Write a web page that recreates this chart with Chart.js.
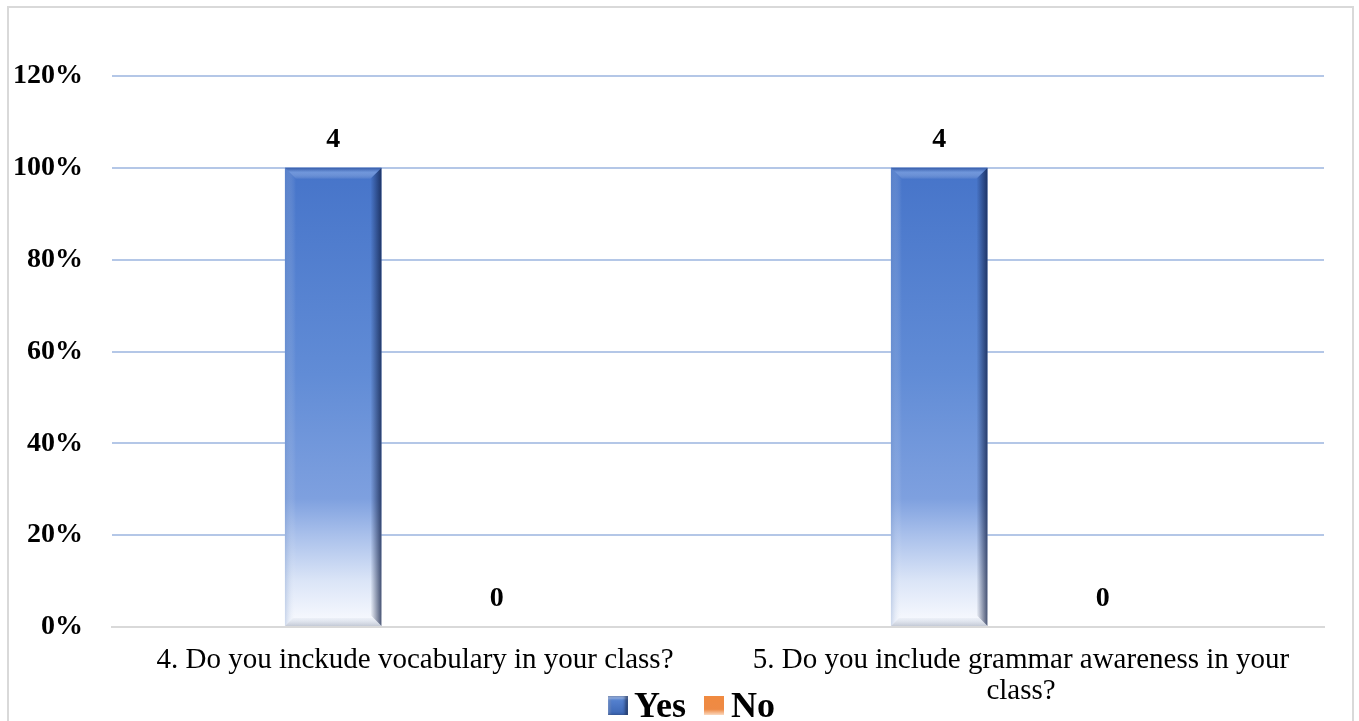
<!DOCTYPE html>
<html><head><meta charset="utf-8">
<script src="https://cdn.jsdelivr.net/npm/chart.js@4"></script>
<style>
html,body{margin:0;padding:0;background:#fff;}
#wrap{position:relative;width:1359px;height:721px;overflow:hidden;}
#frame{position:absolute;left:7px;top:6px;width:1347px;height:730px;border:2px solid #d9d9d9;box-sizing:border-box;pointer-events:none;}
#c{position:absolute;left:0;top:0;}
.lg{position:absolute;font-family:"Liberation Serif",serif;font-weight:bold;font-size:36px;line-height:36px;color:#000;white-space:nowrap;}
.box{position:absolute;width:20px;height:19px;top:696px;}
.yes{left:608px;background:linear-gradient(180deg,#5b88d6,#3c66b3);box-shadow:inset -3px 0 3px rgba(20,35,70,.6),inset 0 3px 2px rgba(255,255,255,.35),inset 3px 0 2px rgba(120,140,180,.4);}
.no{left:704px;background:linear-gradient(180deg,#f08a40,#ee8a45 70%,#fbd9bf);}
</style>
</head><body>
<div id="wrap">
<canvas id="c" width="1359" height="721"></canvas>
<div id="frame"></div>
<span class="box yes"></span><span class="lg" id="lgYes" style="left:634px;top:687px;"></span>
<span class="box no"></span><span class="lg" id="lgNo" style="left:731px;top:687px;"></span>
</div>
<script>
const categories = ["4. Do you inckude vocabulary in your class?", ["5. Do you include grammar awareness in your", "class?"]];
const seriesNames = ["Yes", "No"];
const yesShare = [1.0, 1.0];
const noShare = [0, 0];
const yesCounts = [4, 4];
const noCounts = [0, 0];
const yMax = 1.2;
const yStep = 0.2;

document.getElementById('lgYes').textContent = seriesNames[0];
document.getElementById('lgNo').textContent = seriesNames[1];

function barGradient(ctx) {
  const chart = ctx.chart;
  const a = chart.chartArea;
  if (!a) return '#4472C4';
  const yTop = chart.scales.y.getPixelForValue(1.0);
  const g = chart.ctx.createLinearGradient(0, yTop, 0, a.bottom);
  g.addColorStop(0, '#4674c9');
  g.addColorStop(0.45, '#618cd6');
  g.addColorStop(0.72, '#7ea0df');
  g.addColorStop(0.80, '#a9c0eb');
  g.addColorStop(0.90, '#dbe5f7');
  g.addColorStop(1, '#fbfcff');
  return g;
}

const bevelPlugin = {
  id: 'bevel',
  afterDatasetsDraw(chart) {
    const ctx = chart.ctx;
    const meta = chart.getDatasetMeta(0);
    meta.data.forEach(el => {
      const w = el.width, l = el.x - w / 2, r = el.x + w / 2, t = el.y, b = el.base;
      if (b - t < 2) return;
      const e = 11;
      ctx.save();
      let g = ctx.createLinearGradient(r - e, 0, r, 0);
      g.addColorStop(0, 'rgba(15,30,70,0)');
      g.addColorStop(1, 'rgba(15,30,70,0.75)');
      ctx.fillStyle = g;
      ctx.beginPath();
      ctx.moveTo(r, t); ctx.lineTo(r, b); ctx.lineTo(r - e, b - e); ctx.lineTo(r - e, t + e); ctx.closePath();
      ctx.fill();
      g = ctx.createLinearGradient(l, 0, l + e, 0);
      g.addColorStop(0, 'rgba(120,150,200,0.35)');
      g.addColorStop(1, 'rgba(255,255,255,0)');
      ctx.fillStyle = g;
      ctx.beginPath();
      ctx.moveTo(l, t); ctx.lineTo(l, b); ctx.lineTo(l + e, b - e); ctx.lineTo(l + e, t + e); ctx.closePath();
      ctx.fill();
      g = ctx.createLinearGradient(0, t, 0, t + e);
      g.addColorStop(0, 'rgba(40,70,140,0.5)');
      g.addColorStop(0.4, 'rgba(160,190,240,0.45)');
      g.addColorStop(1, 'rgba(255,255,255,0.05)');
      ctx.fillStyle = g;
      ctx.beginPath();
      ctx.moveTo(l, t); ctx.lineTo(r, t); ctx.lineTo(r - e, t + e); ctx.lineTo(l + e, t + e); ctx.closePath();
      ctx.fill();
      g = ctx.createLinearGradient(0, b - 8, 0, b);
      g.addColorStop(0, 'rgba(200,210,225,0.2)');
      g.addColorStop(1, 'rgba(150,160,180,0.55)');
      ctx.fillStyle = g;
      ctx.beginPath();
      ctx.moveTo(l, b); ctx.lineTo(r, b); ctx.lineTo(r - 8, b - 8); ctx.lineTo(l + 8, b - 8); ctx.closePath();
      ctx.fill();
      ctx.restore();
    });
  }
};

const labelPlugin = {
  id: 'valueLabels',
  afterDatasetsDraw(chart) {
    const ctx = chart.ctx;
    const counts = [yesCounts, noCounts];
    ctx.save();
    ctx.font = 'bold 28px "Liberation Serif"';
    ctx.fillStyle = '#000';
    ctx.textAlign = 'center';
    ctx.textBaseline = 'middle';
    chart.data.datasets.forEach((ds, i) => {
      chart.getDatasetMeta(i).data.forEach((el, j) => {
        ctx.fillText(String(counts[i][j]), el.x, el.y - 28);
      });
    });
    ctx.restore();
  }
};

new Chart(document.getElementById('c'), {
  type: 'bar',
  data: {
    labels: categories,
    datasets: [
      { label: seriesNames[0], data: yesShare, backgroundColor: barGradient, borderWidth: 0 },
      { label: seriesNames[1], data: noShare, backgroundColor: '#ED7D31', borderWidth: 0 }
    ]
  },
  options: {
    responsive: false,
    animation: false,
    categoryPercentage: 0.54,
    barPercentage: 0.59,
    layout: { padding: { left: 8, right: 35, top: 76, bottom: 0 } },
    plugins: { legend: { display: false }, tooltip: { enabled: false } },
    scales: {
      x: {
        grid: { display: false, drawTicks: false },
        border: { display: true, color: '#d9d9d9', width: 2 },
        ticks: {
          color: '#000', padding: 17, maxRotation: 0, autoSkip: false,
          font: { family: 'Liberation Serif', size: 29, lineHeight: 1.1 }
        },
        afterFit(s) { s.height = 94; }
      },
      y: {
        min: 0, max: yMax,
        grid: { color: '#b4c7e7', lineWidth: 2, drawTicks: false },
        border: { display: false },
        ticks: {
          stepSize: yStep, color: '#000', padding: 29,
          font: { family: 'Liberation Serif', size: 28, weight: 'bold' },
          callback: v => Math.round(v * 100) + '%'
        },
        afterFit(s) { s.width = 104; }
      }
    }
  },
  plugins: [bevelPlugin, labelPlugin]
});
</script>
</body></html>
